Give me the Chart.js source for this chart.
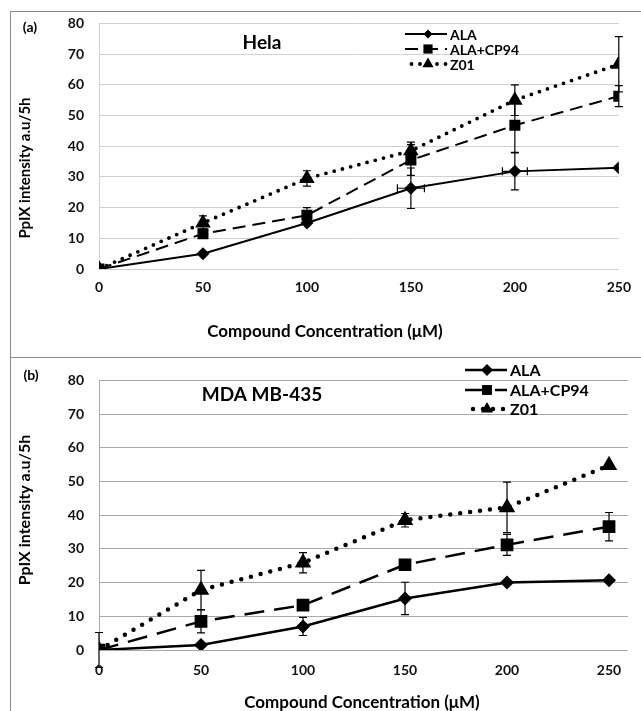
<!DOCTYPE html>
<html><head><meta charset="utf-8">
<script src="https://cdn.jsdelivr.net/npm/chart.js@4.4.0/dist/chart.umd.min.js"></script>
<style>
html,body{margin:0;padding:0;background:#fff;}
body{width:641px;height:711px;position:relative;overflow:hidden;}
canvas{position:absolute;left:0;}
#ca{top:0}
#cb{top:357px}
.frame{position:absolute;border:1px solid #8c8c8c;box-sizing:border-box;pointer-events:none;}
</style></head><body>
<div class="frame" style="left:10px;top:11px;width:640px;height:347px"></div>
<div class="frame" style="left:10px;top:357px;width:640px;height:360px"></div>
<canvas id="ca" width="641" height="357"></canvas>
<canvas id="cb" width="641" height="354"></canvas>
<script>
// ---------- DATA ----------
const concentrations = [0, 50, 100, 150, 200, 250];
const xTickValues = [0, 50, 100, 150, 200, 250];
const yTickValues = [0, 10, 20, 30, 40, 50, 60, 70, 80];
const seriesNames = ['ALA', 'ALA+CP94', 'Z01'];

// Panel (a) Hela
const helaALA      = [0, 5, 15, 26.3, 31.8, 33];
const helaALAErr   = [0, 0, 0, 6.6, 6, 0];
const helaALAxErr  = [0, 0, 0, 6.5, 6, 0];
const helaCP94     = [0, 11.5, 17.5, 35.5, 46.8, 56.3];
const helaCP94Err  = [0, 1.5, 2.5, 5, 8.8, 3.4];
const helaZ01      = [0, 15, 29.5, 38.5, 55, 66.7];
const helaZ01Err   = [0, 2.3, 2.5, 2.8, 5, 9];

// Panel (b) MDA MB-435
const mdaALA       = [0, 1.5, 7, 15.3, 20, 20.7];
const mdaALAErr    = [0, 0, 2.7, 4.8, 0, 0];
const mdaCP94      = [0, 8.5, 13.3, 25.3, 31.2, 36.6];
const mdaCP94Err   = [0, 3.4, 1, 1.5, 3.1, 4.2];
const mdaZ01       = [0, 17.8, 25.9, 38.5, 42.3, 54.8];
const mdaZ01Err    = [5.2, 5.8, 3, 2, 7.5, 0];

// ---------- HELPERS ----------
const FONT = 'Lato, "Open Sans", sans-serif';

function drawMarker(ctx, style, x, y, r) {
  ctx.beginPath();
  if (style === 'rectRot') {
    ctx.moveTo(x, y - r); ctx.lineTo(x + r, y); ctx.lineTo(x, y + r); ctx.lineTo(x - r, y);
  } else if (style === 'rect') {
    const s = r * Math.SQRT1_2;
    ctx.rect(x - s, y - s, 2 * s, 2 * s);
  } else if (style === 'triangle') {
    for (let k = 0; k < 3; k++) {
      const a = k * 2 * Math.PI / 3;
      const px = x + Math.sin(a) * r, py = y - Math.cos(a) * r;
      if (k === 0) ctx.moveTo(px, py); else ctx.lineTo(px, py);
    }
  }
  ctx.closePath();
  ctx.fill();
}

const errorBarPlugin = {
  id: 'errorBars',
  beforeDatasetsDraw(chart) {
    const ctx = chart.ctx, xs = chart.scales.x, ys = chart.scales.y;
    ctx.save();
    ctx.strokeStyle = '#000'; ctx.lineWidth = 1.2; ctx.setLineDash([]);
    chart.data.datasets.forEach(ds => {
      ds.data.forEach((pt, i) => {
        const v = pt.y, c = pt.x;
        const x = xs.getPixelForValue(c);
        const y = ys.getPixelForValue(v);
        const e = ds.errY ? ds.errY[i] : 0;
        if (e > 0) {
          const y1 = ys.getPixelForValue(v - e), y2 = ys.getPixelForValue(v + e);
          ctx.beginPath();
          ctx.moveTo(x, y1); ctx.lineTo(x, y2);
          ctx.moveTo(x - 4, y1); ctx.lineTo(x + 4, y1);
          ctx.moveTo(x - 4, y2); ctx.lineTo(x + 4, y2);
          ctx.stroke();
        }
        const ex = ds.errX ? ds.errX[i] : 0;
        if (ex > 0) {
          const x1 = xs.getPixelForValue(c - ex), x2 = xs.getPixelForValue(c + ex);
          ctx.beginPath();
          ctx.moveTo(x1, y); ctx.lineTo(x2, y);
          ctx.moveTo(x1, y - 4); ctx.lineTo(x1, y + 4);
          ctx.moveTo(x2, y - 4); ctx.lineTo(x2, y + 4);
          ctx.stroke();
        }
      });
    });
    ctx.restore();
  }
};

const legendPlugin = {
  id: 'lineLegend',
  afterDraw(chart) {
    const L = chart.options.plugins.lineLegend;
    if (!L) return;
    const ctx = chart.ctx;
    chart.data.datasets.forEach((ds, i) => {
      const y = L.ys[i];
      ctx.save();
      ctx.strokeStyle = '#000';
      ctx.lineWidth = ds.borderWidth;
      ctx.lineCap = ds.borderCapStyle || 'butt';
      ctx.setLineDash(ds.borderDash || []);
      ctx.lineDashOffset = L.dashOffset ? L.dashOffset[i] : 0;
      ctx.beginPath(); ctx.moveTo(L.x0, y); ctx.lineTo(L.x1, y); ctx.stroke();
      ctx.setLineDash([]);
      ctx.fillStyle = '#000';
      drawMarker(ctx, ds.pointStyle, L.mx, y, L.radii[i]);
      ctx.font = L.font;
      ctx.textAlign = 'left'; ctx.textBaseline = 'middle';
      ctx.fillText(ds.label, L.tx, y + 1);
      ctx.restore();
    });
  }
};

const textPlugin = {
  id: 'freeText',
  afterDraw(chart) {
    const items = chart.options.plugins.freeText;
    if (!items) return;
    const ctx = chart.ctx;
    items.forEach(t => {
      ctx.save();
      ctx.fillStyle = '#000';
      ctx.font = t.font;
      ctx.textAlign = 'center'; ctx.textBaseline = 'middle';
      ctx.translate(t.x, t.y);
      if (t.rot) ctx.rotate(t.rot);
      ctx.fillText(t.text, 0, 0);
      ctx.restore();
    });
  }
};

function series(values) {
  return values.map((v, i) => ({ x: concentrations[i], y: v }));
}

function makeDatasets(p) {
  return [
    { label: seriesNames[0], data: series(p.ala), errY: p.alaErr, errX: p.alaXErr,
      borderColor: '#000', backgroundColor: '#000', borderWidth: p.lw, borderDash: [],
      pointStyle: 'rectRot', pointRadius: p.rDia, pointBorderWidth: 0, pointBackgroundColor: '#000', tension: 0 },
    { label: seriesNames[1], data: series(p.cp94), errY: p.cp94Err,
      borderColor: '#000', backgroundColor: '#000', borderWidth: p.lw, borderDash: p.dash,
      pointStyle: 'rect', pointRadius: p.rSq, pointBorderWidth: 0, pointBackgroundColor: '#000', tension: 0 },
    { label: seriesNames[2], data: series(p.z01), errY: p.z01Err,
      borderColor: '#000', backgroundColor: '#000', borderWidth: p.dotW, borderDash: p.dots, borderCapStyle: 'round',
      pointStyle: 'triangle', pointRadius: p.rTri, pointBorderWidth: 0, pointBackgroundColor: '#000', tension: 0 }
  ];
}

function makeChart(id, p) {
  return new Chart(document.getElementById(id), {
    type: 'line',
    data: { datasets: makeDatasets(p) },
    options: {
      responsive: false, animation: false, devicePixelRatio: 1,
      layout: { padding: { top: p.padTop, right: p.padRight, left: 0, bottom: 0 } },
      plugins: { legend: { display: false }, tooltip: { enabled: false },
        lineLegend: p.legend, freeText: p.texts },
      scales: {
        x: {
          type: 'linear', min: 0, max: p.xMax,
          grid: { display: false, drawTicks: false },
          border: { display: false },
          ticks: { padding: p.xTickPad, color: '#111', font: { family: FONT, size: 14, weight: 'bold' } },
          afterBuildTicks: s => { s.ticks = xTickValues.map(v => ({ value: v })); },
          afterFit: s => { s.height = p.xHeight; }
        },
        y: {
          min: 0, max: 80,
          grid: { color: p.gridColor, lineWidth: 1, drawTicks: false },
          border: { display: true, color: p.gridColor },
          ticks: { padding: 15, color: '#111', font: { family: FONT, size: 14, weight: 'bold' } },
          afterBuildTicks: s => { s.ticks = yTickValues.map(v => ({ value: v })); },
          afterFit: s => { s.width = 99; }
        }
      }
    },
    plugins: [errorBarPlugin, legendPlugin, textPlugin]
  });
}

const chartA = makeChart('ca', {
  ala: helaALA, alaErr: helaALAErr, alaXErr: helaALAxErr,
  cp94: helaCP94, cp94Err: helaCP94Err, z01: helaZ01, z01Err: helaZ01Err,
  lw: 2, dash: [13, 7], dotW: 3.8, dots: [0, 8.5], rDia: 6.5, rSq: 7.8, rTri: 9,
  xMax: 250, padTop: 22, padRight: 14, xHeight: 88, xTickPad: 10, gridColor: '#d0d0d0',
  legend: { x0: 405, x1: 447, mx: 428, tx: 450, ys: [34, 49, 64], radii: [4.5, 6.5, 6.5],
            font: 'bold 14px ' + FONT, dashOffset: [0, 0, 2] },
  texts: [
    { text: '(a)', x: 30, y: 27, font: 'bold 14px ' + FONT },
    { text: 'Hela', x: 262, y: 43, font: 'bold 19px ' + FONT },
    { text: 'Compound Concentration (\u03bcM)', x: 325, y: 332, font: 'bold 17px ' + FONT },
    { text: 'PpIX intensity a.u/5h', x: 25, y: 168, rot: -Math.PI / 2, font: 'bold 15px ' + FONT }
  ]
});

const chartB = makeChart('cb', {
  ala: mdaALA, alaErr: mdaALAErr, alaXErr: null,
  cp94: mdaCP94, cp94Err: mdaCP94Err, z01: mdaZ01, z01Err: mdaZ01Err,
  lw: 2.5, dash: [20, 10], dotW: 4.5, dots: [0, 10], rDia: 7, rSq: 9, rTri: 9.5,
  xMax: 259.3, padTop: 11, padRight: 13, xHeight: 61, xTickPad: 12, gridColor: '#a8a8a8',
  legend: { x0: 465, x1: 507, mx: 487, tx: 510, ys: [370 - 357, 390 - 357, 409 - 357], radii: [6, 7, 7],
            font: 'bold 16px ' + FONT, dashOffset: [0, 0, 2] },
  texts: [
    { text: '(b)', x: 31, y: 18, font: 'bold 14px ' + FONT },
    { text: 'MDA MB-435', x: 262, y: 38, font: 'bold 19px ' + FONT },
    { text: 'Compound Concentration (\u03bcM)', x: 362, y: 346, font: 'bold 17px ' + FONT },
    { text: 'PpIX intensity a.u/5h', x: 25, y: 153, rot: -Math.PI / 2, font: 'bold 16px ' + FONT }
  ]
});
</script>
</body></html>
